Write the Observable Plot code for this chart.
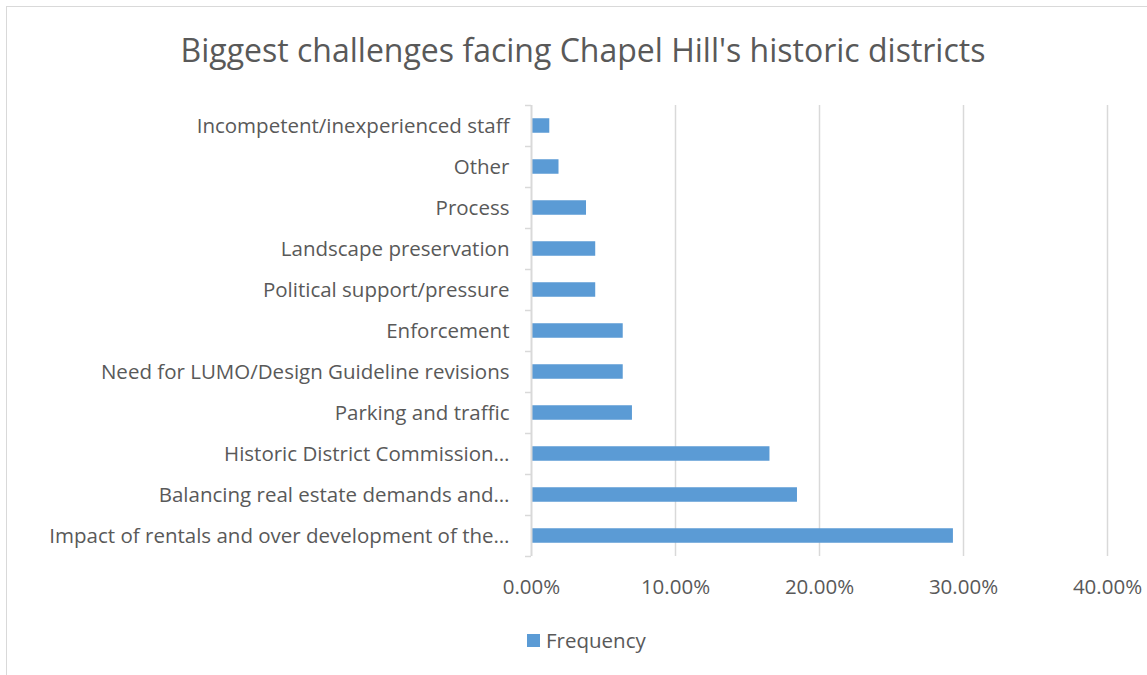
<!DOCTYPE html>
<html>
<head>
<meta charset="utf-8">
<script src="https://cdn.jsdelivr.net/npm/d3@7"></script>
<script src="https://cdn.jsdelivr.net/npm/@observablehq/plot@0.6"></script>
<style>
  html, body { margin: 0; padding: 0; background: #fff; overflow: hidden; width: 1147px; height: 675px; }
  #wrap { position: relative; width: 1147px; height: 675px; font-family: "Open Sans", sans-serif; color: #595959; }
  #border { position: absolute; left: 6px; top: 6px; width: 1300px; height: 800px; border: 1.5px solid #d9d9d9; box-sizing: border-box; }
  #title { position: absolute; left: 0; width: 1166px; top: 26px; text-align: center; font-size: 32px; line-height: 48px; color: #595959; }
  #chart { position: absolute; left: 0; top: 0; }
  #legend { position: absolute; left: 527px; top: 627px; font-size: 20.5px; line-height: 26px; display: flex; align-items: center; }
  #legend .sw { width: 13px; height: 13px; background: #5b9bd5; margin-right: 6px; }
</style>
</head>
<body>
<div id="wrap">
  <div id="border"></div>
  <div id="chart"></div>
  <div id="title">Biggest challenges facing Chapel Hill's historic districts</div>
  <div id="legend"><div class="sw"></div><span>Frequency</span></div>
</div>
<script>
const categories = [
  "Incompetent/inexperienced staff",
  "Other",
  "Process",
  "Landscape preservation",
  "Political support/pressure",
  "Enforcement",
  "Need for LUMO/Design Guideline revisions",
  "Parking and traffic",
  "Historic District Commission…",
  "Balancing real estate demands and…",
  "Impact of rentals and over development of the…"
];
const frequency = [0.0127, 0.0191, 0.0382, 0.0446, 0.0446, 0.0637, 0.0637, 0.0701, 0.1656, 0.1847, 0.2930];
const xTicks = [0, 0.1, 0.2, 0.3, 0.4];
const seriesName = "Frequency";

const data = categories.map((c, i) => ({category: c, value: frequency[i]}));

const marginTop = 105, marginBottom = 119, H = 675;
const step = (H - marginTop - marginBottom) / categories.length;
const grid = "#d9d9d9";

const chart = Plot.plot({
  width: 1147,
  height: H,
  marginLeft: 531,
  marginRight: 40,
  marginTop,
  marginBottom,
  style: {fontFamily: "Open Sans, sans-serif", fontSize: "20.5px", color: "#595959", background: "transparent"},
  x: {domain: [0, 0.4], label: null},
  y: {domain: categories, padding: 0, label: null},
  marks: [
    Plot.ruleX(xTicks.slice(1), {stroke: grid, strokeWidth: 1.5}),
    Plot.barX(data, {x: "value", y: "category", fill: "#5b9bd5", insetTop: (step - 14.5) / 2, insetBottom: (step - 14.5) / 2}),
    Plot.ruleX([0], {stroke: grid, strokeWidth: 2}),
    Plot.axisY({ticks: categories, tickSize: 6, text: null, dy: -step / 2, stroke: grid, strokeWidth: 1.5, label: null}),
    Plot.axisY({ticks: categories.slice(-1), tickSize: 6, text: null, dy: step / 2, stroke: grid, strokeWidth: 1.5, label: null}),
    Plot.axisY({ticks: categories, tickSize: 0, tickPadding: 22, fill: "#595959", label: null}),
    Plot.axisX({ticks: xTicks, tickSize: 0, tickPadding: 23, tickFormat: d3.format(".2%"), fill: "#595959", label: null})
  ]
});
document.getElementById("chart").appendChild(chart);
</script>
</body>
</html>
